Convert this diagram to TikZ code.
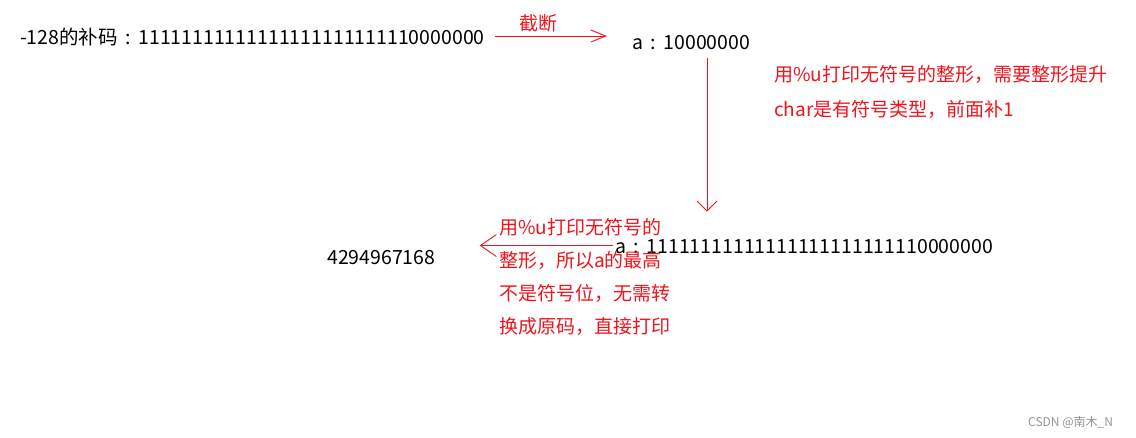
\documentclass[tikz,border=0pt]{standalone}
\usepackage{fontspec}
\setmainfont{Noto Sans CJK SC}
\usetikzlibrary{arrows.meta}
\definecolor{mred}{RGB}{240,20,30}
\definecolor{wmgray}{RGB}{150,150,150}
\newcommand{\fwcolon}{\makebox[1.05em][c]{:}}
\begin{document}
\begin{tikzpicture}[x=1pt,y=-1pt,
  blk/.style={anchor=base west,inner sep=0pt,text=black,font=\fontsize{19.5}{23}\selectfont},
  rtxt/.style={anchor=base west,inner sep=0pt,text=mred,align=left,font=\fontsize{19}{33.5}\selectfont},
  redline/.style={draw=mred,line width=0.9pt},
]
\useasboundingbox[fill=white] (0,0) rectangle (1136,438);

\node[blk] (t1) at (20,45) {-128的补码\fwcolon 11111111111111111111111110000000};
\node[rtxt] (cut) at (519,31) {截断};
\node[blk] (a1) at (632,50) {a\fwcolon 10000000};
\node[rtxt,font=\fontsize{19}{35}\selectfont] (note1) at (774,117) {用\%u打印无符号的整形，需要整形提升\\char是有符号类型，前面补1};
\node[blk] (a2) at (615,254) {a\fwcolon 11111111111111111111111110000000};
\node[blk] (res) at (327,265) {4294967168};
\node[rtxt,font=\fontsize{19}{33}\selectfont] (note2) at (499,334) {用\%u打印无符号的\\整形，所以a的最高\\不是符号位，无需转\\换成原码，直接打印};
\node[anchor=base west,inner sep=0pt,text=wmgray,font=\fontsize{12}{14}\selectfont] (wm) at (1028,427) {CSDN @南木\_N};

\coordinate (vx) at (707,0);

\draw[redline,-{Straight Barb[length=15pt,width=12pt]},shorten <=10pt,shorten >=25pt]
  ([yshift=1.5pt]t1.east) -- ([yshift=1.5pt]t1.east -| a1.west);
\draw[redline,-{Straight Barb[length=10pt,width=20pt]},shorten <=8pt,shorten >=28pt]
  (a1.south -| vx) -- (a2.north -| vx);
\draw[redline,-{Straight Barb[length=16pt,width=22pt]},shorten <=2pt,shorten >=44pt]
  ([yshift=1.5pt]a2.west) -- ([yshift=1.5pt]a2.west -| res.east);
\end{tikzpicture}
\end{document}
